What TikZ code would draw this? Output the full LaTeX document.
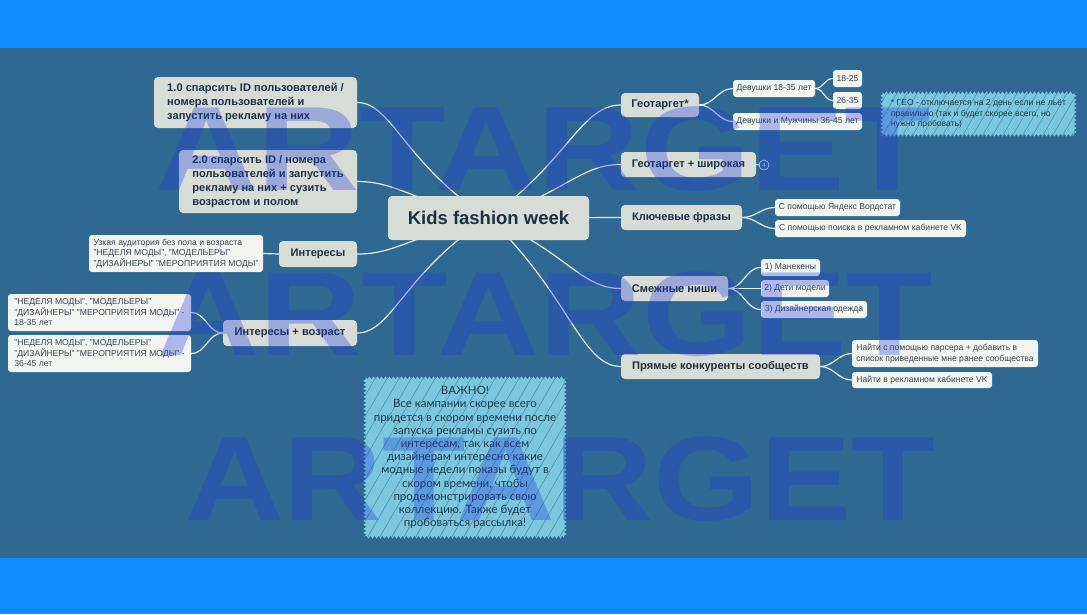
\documentclass[tikz,border=0pt]{standalone}
\usepackage{fontspec}
\setmainfont{Liberation Sans}
\newfontfamily\notefont{Lato}
\usepackage{graphicx}
\usetikzlibrary{decorations.pathmorphing,calc}
\definecolor{bgblue}{HTML}{2F6890}
\definecolor{barblue}{HTML}{0D8BFF}
\definecolor{mfill}{HTML}{D8DCD6}
\definecolor{cfill}{HTML}{F2F4F0}
\definecolor{mtext}{HTML}{1C3044}
\definecolor{ctext}{HTML}{3A4550}
\definecolor{conncol}{HTML}{E4ECEF}
\definecolor{notefill}{HTML}{7CC6DE}
\definecolor{hatchcol}{HTML}{4E92B6}
\definecolor{notetext}{HTML}{1E3A4C}
\definecolor{wmblue}{HTML}{1E3CDC}
\pgfdeclarelayer{back}\pgfdeclarelayer{edges}\pgfdeclarelayer{front}
\pgfsetlayers{back,edges,main,front}
\begin{document}
\begin{tikzpicture}[x=1pt,y=-1pt,
  mbox/.style={fill=mfill, rounded corners=4pt, text=mtext, font=\bfseries\fontsize{11.1}{14.2}\selectfont, inner sep=0pt, align=center},
  cbox/.style={fill=cfill, rounded corners=3pt, text=ctext, font=\fontsize{8.6}{10.5}\selectfont, inner sep=0pt, align=center},
  conn/.style={draw=conncol, line width=1.2pt},
  hatch/.style={draw=hatchcol, line width=0.6pt},
  jag/.style={fill=notefill, decorate, decoration={zigzag, segment length=4pt, amplitude=1.5pt}},
  wm/.style={font=\bfseries\fontsize{120}{120}\selectfont, text=wmblue, opacity=0.32, anchor=base west, inner sep=0pt}
]
\useasboundingbox (0,0) rectangle (1087,614);
\begin{pgfonlayer}{back}
\fill[bgblue] (0,0) rectangle (1087,614);
\fill[barblue] (0,0) rectangle (1087,48);
\fill[barblue] (0,558) rectangle (1087,614);
\end{pgfonlayer}

% central node
\node[mbox, font=\bfseries\fontsize{18.5}{22}\selectfont, minimum width=201pt, minimum height=44pt] (ctr) at (488.5,218) {Kids fashion week};

% left main branches
\node[mbox, minimum width=203pt, minimum height=51pt, align=left] (b1) at (255.5,102.5) {1.0 спарсить ID пользователей /\\номера пользователей и\\запустить рекламу на них};
\node[mbox, minimum width=178pt, minimum height=63pt, align=left] (b2) at (268,181.5) {2.0 спарсить ID / номера\\пользователей и запустить\\рекламу на них + сузить\\возрастом и полом};
\node[mbox, minimum width=78pt, minimum height=26pt] (int) at (318,254) {Интересы};
\node[mbox, minimum width=134pt, minimum height=26pt] (intage) at (290,333) {Интересы + возраст};

% left children
\node[cbox, minimum width=174pt, minimum height=37pt, align=left] (intc) at (176,253.5) {Узкая аудитория без пола и возраста\\"НЕДЕЛЯ МОДЫ", "МОДЕЛЬЕРЫ"\\"ДИЗАЙНЕРЫ" "МЕРОПРИЯТИЯ МОДЫ"};
\node[cbox, minimum width=183pt, minimum height=37pt, align=left] (ia1) at (99.5,312.5) {"НЕДЕЛЯ МОДЫ", "МОДЕЛЬЕРЫ"\\"ДИЗАЙНЕРЫ" "МЕРОПРИЯТИЯ МОДЫ" -\\18-35 лет};
\node[cbox, minimum width=183pt, minimum height=37pt, align=left] (ia2) at (99.5,353.5) {"НЕДЕЛЯ МОДЫ", "МОДЕЛЬЕРЫ"\\"ДИЗАЙНЕРЫ" "МЕРОПРИЯТИЯ МОДЫ" -\\36-45 лет};

% right main branches
\node[mbox, minimum width=78pt, minimum height=24pt] (geo) at (660,105) {Геотаргет*};
\node[mbox, minimum width=135pt, minimum height=25pt] (geow) at (688.5,164.5) {Геотаргет + широкая};
\node[mbox, minimum width=121pt, minimum height=25pt] (key) at (681.5,217.5) {Ключевые фразы};
\node[mbox, minimum width=107pt, minimum height=25pt] (niche) at (674.5,288.5) {Смежные ниши};
\node[mbox, minimum width=199pt, minimum height=25pt] (comp) at (720.5,366.5) {Прямые конкуренты сообществ};

\node[circle, draw=conncol, line width=0.7pt, inner sep=0pt, minimum size=10pt, text=conncol, font=\fontsize{6}{6}\selectfont] (num) at (764,165) {4};

% right children
\node[cbox, minimum width=82pt, minimum height=17pt] (g1) at (774,88.5) {Девушки 18-35 лет};
\node[cbox, minimum width=129pt, minimum height=17pt] (g2) at (797.5,121.5) {Девушки и Мужчины 36-45 лет};
\node[cbox, minimum width=29pt, minimum height=17pt] (g11) at (847.5,78.5) {18-25};
\node[cbox, minimum width=29pt, minimum height=17pt] (g12) at (847.5,100.5) {26-35};
\node[cbox, minimum width=125pt, minimum height=17pt] (k1) at (837.5,207.5) {С помощью Яндекс Вордстат};
\node[cbox, minimum width=191pt, minimum height=17pt] (k2) at (870.5,228.5) {С помощью поиска в рекламном кабинете VK};
\node[cbox, minimum width=59pt, minimum height=17pt] (n1) at (790.5,267.5) {1) Манекены};
\node[cbox, minimum width=68pt, minimum height=17pt] (n2) at (795,288.5) {2) Дети модели};
\node[cbox, minimum width=106pt, minimum height=17pt] (n3) at (814,309.5) {3) Дизайнерская одежда};
\node[cbox, minimum width=186pt, minimum height=27pt, align=left] (c1) at (945,353.5) {Найти с помощью парсера + добавить в\\список приведенные мне ранее сообщества};
\node[cbox, minimum width=140pt, minimum height=16pt] (c2) at (922,380) {Найти в рекламном кабинете VK};

% notes
\node[text=notetext, font=\fontsize{8.6}{10.5}\selectfont, align=left, inner sep=0pt, minimum width=193pt, minimum height=42pt] (geonote) at (978.5,114) {* ГЕО - отключается на 2 день если не льёт\\правильно (так и будет скорее всего, но\\нужно пробовать)};
\node[text=notetext, font=\notefont\fontsize{11.5}{13.2}\selectfont, align=center, inner sep=0pt, minimum width=200pt, minimum height=159pt] (imp) at (465,457.5) {ВАЖНО!\\Все кампании скорее всего\\придется в скором времени после\\запуска рекламы сузить по\\интересам, так как всем\\дизайнерам интересно какие\\модные недели показы будут в\\скором времени, чтобы\\продемонстрировать свою\\коллекцию. Также будет\\пробоваться рассылка!};

\begin{pgfonlayer}{edges}
\path[jag] (geonote.north west) rectangle (geonote.south east);
\begin{scope}
\clip (geonote.north west) rectangle (geonote.south east);
\foreach \x in {850,860,...,1080} \draw[hatch] (\x,140) -- ++(30,-52);
\end{scope}
\path[jag] (imp.north west) rectangle (imp.south east);
\begin{scope}
\clip (imp.north west) rectangle (imp.south east);
\foreach \x in {270,282,...,570} \draw[hatch] (\x,540) -- ++(95,-165);
\end{scope}

% central connectors
\draw[conn] (ctr.center) .. controls (568,161.5) and (581,105) .. (geo.west);
\draw[conn] (ctr.center) .. controls (568,191) and (581,164.5) .. (geow.west);
\draw[conn] (ctr.center) -- (key.west);
\draw[conn] (ctr.center) .. controls (568,253) and (581,288.5) .. (niche.west);
\draw[conn] (ctr.center) .. controls (568,292) and (581,366.5) .. (comp.west);
\draw[conn] (ctr.center) .. controls (405,165) and (392,102.5) .. (b1.east);
\draw[conn] (ctr.center) .. controls (409.5,200) and (396.5,181.5) .. (b2.east);
\draw[conn] (ctr.center) .. controls (409.5,236) and (396.5,254) .. (int.east);
\draw[conn] (ctr.center) .. controls (405,271) and (392,333) .. (intage.east);

% child connectors
\draw[conn] (geo.east) to[out=0,in=180] (g1.west);
\draw[conn] (geo.east) to[out=0,in=180] (g2.west);
\draw[conn] (g1.east) to[out=0,in=180] (g11.west);
\draw[conn] (g1.east) to[out=0,in=180] (g12.west);
\draw[conn] (geow.east) -- (num.west);
\draw[conn] (key.east) to[out=0,in=180] (k1.west);
\draw[conn] (key.east) to[out=0,in=180] (k2.west);
\draw[conn] (niche.east) to[out=0,in=180] (n1.west);
\draw[conn] (niche.east) -- (n2.west);
\draw[conn] (niche.east) to[out=0,in=180] (n3.west);
\draw[conn] (comp.east) to[out=0,in=180] (c1.west);
\draw[conn] (comp.east) to[out=0,in=180] (c2.west);
\draw[conn] (int.west) -- (intc.east);
\draw[conn] (intage.west) to[out=180,in=0] (ia1.east);
\draw[conn] (intage.west) to[out=180,in=0] (ia2.east);
\end{pgfonlayer}

% watermark
\begin{pgfonlayer}{front}
\node[wm] (wm1) at (155,190) {\scalebox{1.18}[1]{ARTARGET}};
\node[wm] (wm2) at (157,355) {\scalebox{1.18}[1]{ARTARGET}};
\node[wm] (wm3) at (185,520) {\scalebox{1.14}[1]{ARTARGET}};
\end{pgfonlayer}
\end{tikzpicture}
\end{document}
